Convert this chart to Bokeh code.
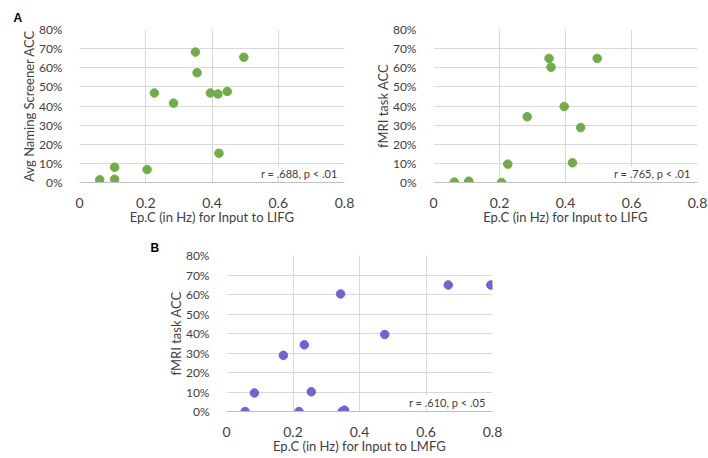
from bokeh.plotting import figure
from bokeh.layouts import column, row
from bokeh.models import Spacer, Label, Title, NumeralTickFormatter, CustomJSTickFormatter, FixedTicker, Range1d
from bokeh.embed import file_html
from bokeh.resources import INLINE

# Panel A (left): Ep.C input to LIFG vs Avg Naming Screener ACC
a1_x = [0.061, 0.106, 0.106, 0.204, 0.226, 0.284, 0.350, 0.355, 0.395, 0.418, 0.421, 0.446, 0.496]
a1_y = [0.014, 0.017, 0.080, 0.068, 0.468, 0.415, 0.682, 0.574, 0.468, 0.463, 0.153, 0.476, 0.655]

# Panel A (right): Ep.C input to LIFG vs fMRI task ACC
a2_x = [0.063, 0.107, 0.107, 0.206, 0.225, 0.284, 0.350, 0.356, 0.396, 0.421, 0.446, 0.496]
a2_y = [0.002, 0.007, 0.000, 0.000, 0.096, 0.344, 0.649, 0.603, 0.397, 0.103, 0.287, 0.649]

# Panel B: Ep.C input to LMFG vs fMRI task ACC
b_x = [0.056, 0.084, 0.171, 0.218, 0.234, 0.255, 0.343, 0.348, 0.355, 0.476, 0.667, 0.795]
b_y = [0.000, 0.095, 0.288, 0.000, 0.342, 0.101, 0.603, 0.000, 0.007, 0.395, 0.649, 0.649]

x_ticks = [0, 0.2, 0.4, 0.6, 0.8]
y_ticks = [0, 0.1, 0.2, 0.3, 0.4, 0.5, 0.6, 0.7, 0.8]

FONT = "Lato"
GREEN = "#70ad47"
PURPLE = "#7560d6"


def make_panel(xs, ys, color, ylabel, xlabel, stat, fw, fh, bl, br, bt, bb,
               letter=None, loff=0, lstand=0):
    p = figure(output_backend="svg", toolbar_location=None,
               frame_width=fw, frame_height=fh,
               min_border_left=bl, min_border_right=br, min_border_top=bt, min_border_bottom=bb,
               x_range=Range1d(0, 0.8), y_range=Range1d(0, 0.8))
    p.outline_line_color = None
    p.background_fill_color = "white"
    p.border_fill_color = "white"
    if letter:
        p.add_layout(Title(text=letter, align="left", offset=loff, standoff=lstand,
                           text_font="Liberation Sans", text_font_style="bold",
                           text_font_size="12px", text_color="black"), "above")
    p.scatter(xs, ys, size=8.5, color=color, line_color=color)
    p.xaxis.ticker = FixedTicker(ticks=x_ticks)
    p.yaxis.ticker = FixedTicker(ticks=y_ticks)
    p.xaxis.formatter = CustomJSTickFormatter(code='return tick === 0 ? "0" : tick.toFixed(1);')
    p.yaxis.formatter = NumeralTickFormatter(format="0%")
    for ax in (p.xaxis, p.yaxis):
        ax.major_tick_line_color = None
        ax.minor_tick_line_color = None
        ax.major_label_text_font = FONT
        ax.axis_label_text_font = FONT
        ax.axis_label_text_font_style = "normal"
        ax.axis_label_text_color = "#404040"
        ax.major_label_text_color = "#404040"
    p.yaxis.axis_line_color = None
    p.xaxis.axis_line_color = "#bfbfbf"
    p.xaxis.major_label_text_font_size = "14px"
    p.yaxis.major_label_text_font_size = "12px"
    p.xaxis.axis_label_text_font_size = "13px"
    p.yaxis.axis_label_text_font_size = "13px"
    p.xaxis.major_label_standoff = 9
    p.yaxis.major_label_standoff = 11
    p.xaxis.axis_label_standoff = -2
    p.yaxis.axis_label_standoff = -1
    p.xaxis.axis_label = xlabel
    p.yaxis.axis_label = ylabel
    p.xgrid.grid_line_color = "#d9d9d9"
    p.ygrid.grid_line_color = "#d9d9d9"
    p.add_layout(Label(x=0.8, y=0.0, text=stat, text_align="right", text_baseline="bottom",
                       text_font=FONT, text_font_size="11px", text_color="#404040",
                       background_fill_color="white", x_offset=-7, y_offset=3))
    return p


p1 = make_panel(a1_x, a1_y, GREEN, "Avg Naming Screener ACC", "Ep.C (in Hz) for Input to LIFG",
                "r = .688, p < .01", 265, 153, 79, 19, 29, 50, "A", -66, 9)
p2 = make_panel(a2_x, a2_y, GREEN, "fMRI task ACC", "Ep.C (in Hz) for Input to LIFG",
                "r = .765, p < .01", 264, 153, 70, 10, 29, 50)
p3 = make_panel(b_x, b_y, PURPLE, "fMRI task ACC", "Ep.C (in Hz) for Input to LMFG",
                "r = .610, p < .05", 266, 156, 86, 20, 23, 46, "B", -76, 2)

layout = column(row(p1, p2), row(Spacer(width=140), p3))

open("out.html", "w").write(file_html(layout, INLINE))
